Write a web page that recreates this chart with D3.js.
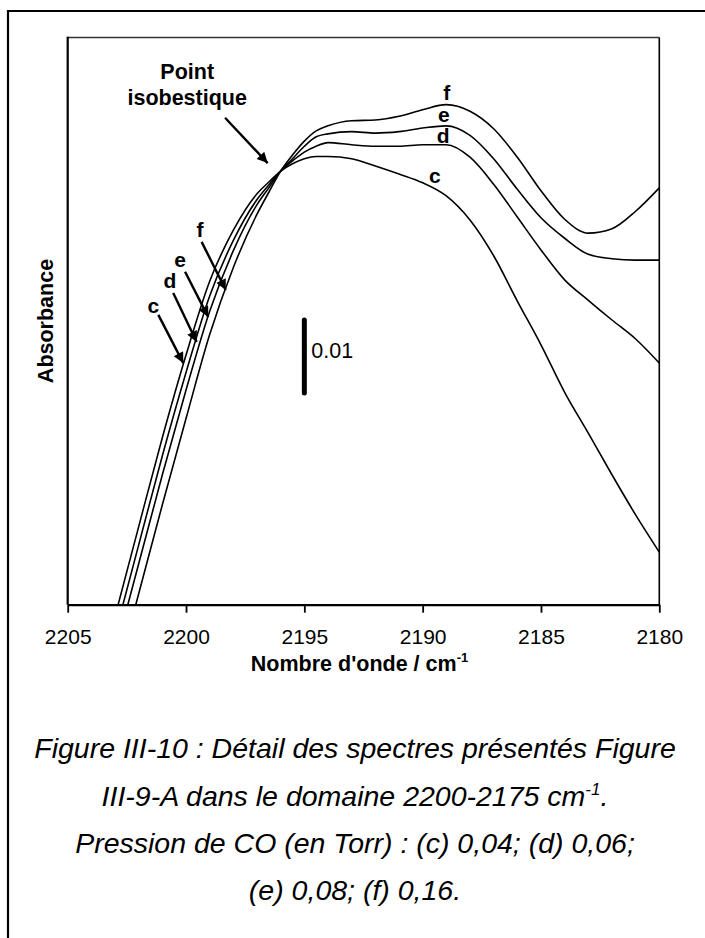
<!DOCTYPE html>
<html><head><meta charset="utf-8">
<script src="https://cdn.jsdelivr.net/npm/d3@7"></script>
<style>
html,body{margin:0;padding:0;background:#fff;}
svg{display:block;font-family:"Liberation Sans",Arial,sans-serif;}
</style></head>
<body>
<svg id="chart" width="705" height="938"></svg>
<script>
// ---- data ----
const wavenumbers = [2203, 2202, 2201, 2200, 2199, 2198, 2197, 2196.5, 2196, 2195.5, 2195, 2194.5, 2194, 2193, 2192, 2191, 2190, 2189, 2188, 2187, 2186, 2185, 2184, 2183, 2182, 2181, 2180];
const seriesC = [-0.0016, 0.0107, 0.0229, 0.0342, 0.0443, 0.0513, 0.0563, 0.0579, 0.0594, 0.0604, 0.0611, 0.0614, 0.0614, 0.0611, 0.0601, 0.0590, 0.0578, 0.0560, 0.0527, 0.0478, 0.0416, 0.0356, 0.0291, 0.0235, 0.0178, 0.0123, 0.0072];
const seriesD = [-0.0041, 0.0082, 0.0204, 0.0318, 0.0423, 0.0499, 0.0555, 0.0575, 0.0594, 0.0608, 0.0620, 0.0628, 0.0633, 0.0630, 0.0628, 0.0628, 0.0630, 0.0630, 0.0613, 0.0576, 0.0531, 0.0486, 0.0445, 0.0417, 0.0390, 0.0364, 0.0331];
const seriesE = [-0.0066, 0.0056, 0.0178, 0.0294, 0.0402, 0.0485, 0.0548, 0.0571, 0.0594, 0.0611, 0.0628, 0.0641, 0.0645, 0.0648, 0.0646, 0.0648, 0.0653, 0.0656, 0.0643, 0.0611, 0.0569, 0.0530, 0.0502, 0.0480, 0.0474, 0.0472, 0.0472];
const seriesF = [-0.0107, 0.0015, 0.0137, 0.0255, 0.0370, 0.0462, 0.0535, 0.0565, 0.0594, 0.0616, 0.0635, 0.0649, 0.0656, 0.0663, 0.0664, 0.0669, 0.0678, 0.0685, 0.0676, 0.0652, 0.0613, 0.0567, 0.0528, 0.0509, 0.0515, 0.0539, 0.0571];
const seriesNames = ["c", "d", "e", "f"];
const xTicks = [2205, 2200, 2195, 2190, 2185, 2180];
const xDomain = [2205, 2180];
const yDomain = [0, 0.0777];
const scaleBarValue = 0.01;
const xTitle = "Nombre d'onde / cm";
const yTitle = "Absorbance";
const isoLabel = ["Point", "isobestique"];
const captionLines = [
  "Figure III-10 : Détail des spectres présentés Figure",
  "III-9-A dans le domaine 2200-2175 cm",
  "Pression de CO (en Torr) : (c) 0,04; (d) 0,06;",
  "(e) 0,08; (f) 0,16."
];

// ---- layout ----
const svg = d3.select("#chart");
const m = {left: 67.7, right: 659.3, top: 37.5, bottom: 604.7};
const x = d3.scaleLinear().domain(xDomain).range([m.left, m.right]);
const y = d3.scaleLinear().domain(yDomain).range([m.bottom, m.top]);

// outer page border (left + top)
svg.append("path").attr("d", "M8,938 L8,11 L705,11")
  .attr("fill", "none").attr("stroke", "#000").attr("stroke-width", 2.2);

const defs = svg.append("defs");
defs.append("clipPath").attr("id", "clip")
  .append("rect").attr("x", m.left).attr("y", m.top)
  .attr("width", m.right - m.left).attr("height", m.bottom - m.top);
defs.append("marker").attr("id", "arr").attr("viewBox", "0 0 10 10")
  .attr("refX", 10).attr("refY", 5).attr("markerWidth", 5.2).attr("markerHeight", 4.4)
  .attr("markerUnits", "strokeWidth").attr("orient", "auto")
  .append("path").attr("d", "M0,0 L10,5 L0,10 Z").attr("fill", "#000");

// frame (top/right thinner, grey-ish top as in the reference)
svg.append("line").attr("x1", m.left).attr("x2", m.right).attr("y1", m.top).attr("y2", m.top)
  .attr("stroke", "#333").attr("stroke-width", 1.4);
svg.append("line").attr("x1", m.right).attr("x2", m.right).attr("y1", m.top).attr("y2", m.bottom)
  .attr("stroke", "#000").attr("stroke-width", 1.6);

// curves
const allSeries = [seriesC, seriesD, seriesE, seriesF];
const line = d3.line().x((d, i) => x(wavenumbers[i])).y(d => y(d)).curve(d3.curveMonotoneX);
svg.append("g").attr("clip-path", "url(#clip)")
  .selectAll("path").data(allSeries).join("path")
  .attr("d", d => line(d)).attr("fill", "none").attr("stroke", "#000").attr("stroke-width", 1.6);

// x axis
const xAxis = d3.axisBottom(x).tickValues(xTicks).tickSize(8).tickSizeOuter(0).tickFormat(d3.format("d"));
const gx = svg.append("g").attr("transform", `translate(0,${m.bottom})`).call(xAxis);
gx.select(".domain").attr("stroke-width", 2.2);
gx.selectAll(".tick line").attr("stroke-width", 1.8);
gx.selectAll(".tick text").attr("font-size", 21).attr("font-family", "Liberation Sans, Arial, sans-serif")
  .attr("dy", 0).attr("y", 39).attr("fill", "#000");
// left axis line
svg.append("line").attr("x1", m.left).attr("x2", m.left).attr("y1", m.top - 0.7).attr("y2", m.bottom)
  .attr("stroke", "#000").attr("stroke-width", 2.2);

// axis titles
const xt = svg.append("text").attr("x", (m.left + m.right) / 2 - 4).attr("y", 671)
  .attr("text-anchor", "middle").attr("font-size", 21.5).attr("font-weight", "bold");
xt.append("tspan").text(xTitle);
xt.append("tspan").attr("dy", -9).attr("font-size", 13).text("-1");

svg.append("text").attr("transform", "translate(53,321) rotate(-90)")
  .attr("text-anchor", "middle").attr("font-size", 21.5).attr("font-weight", "bold").text(yTitle);

// scale bar
const barX = x(2195), barTop = 0.039;
svg.append("line").attr("x1", barX).attr("x2", barX)
  .attr("y1", y(barTop)).attr("y2", y(barTop - scaleBarValue))
  .attr("stroke", "#000").attr("stroke-width", 5).attr("stroke-linecap", "round");
svg.append("text").attr("x", barX + 7).attr("y", (y(barTop) + y(barTop - scaleBarValue)) / 2 + 1)
  .attr("font-size", 21.5).text(String(scaleBarValue));

// curve labels near peaks
const peakLabels = [
  {t: "f", w: 2188.98, a: 0.0691},
  {t: "e", w: 2189.1, a: 0.0661},
  {t: "d", w: 2189.13, a: 0.0632},
  {t: "c", w: 2189.48, a: 0.0578}
];
svg.selectAll("text.pk").data(peakLabels).join("text").attr("class", "pk")
  .attr("x", d => x(d.w)).attr("y", d => y(d.a)).attr("text-anchor", "middle")
  .attr("font-size", 21).attr("font-weight", "bold").text(d => d.t);

// left labels with arrows
const leftLabels = [
  {t: "c", w: 2201.38, a: 0.0400, from: [2201.17, 0.0397], to: [2200.115, 0.0331]},
  {t: "d", w: 2200.68, a: 0.0434, from: [2200.54, 0.0427], to: [2199.55, 0.0360]},
  {t: "e", w: 2200.25, a: 0.0463, from: [2200.04, 0.0456], to: [2199.06, 0.0394]},
  {t: "f", w: 2199.41, a: 0.0504, from: [2199.34, 0.0497], to: [2198.32, 0.0431]}
];
svg.selectAll("text.lf").data(leftLabels).join("text").attr("class", "lf")
  .attr("x", d => x(d.w)).attr("y", d => y(d.a)).attr("text-anchor", "middle")
  .attr("font-size", 21).attr("font-weight", "bold").text(d => d.t);
svg.selectAll("line.la").data(leftLabels).join("line").attr("class", "la")
  .attr("x1", d => x(d.from[0])).attr("y1", d => y(d.from[1]))
  .attr("x2", d => x(d.to[0])).attr("y2", d => y(d.to[1]))
  .attr("stroke", "#000").attr("stroke-width", 2.4).attr("marker-end", "url(#arr)");

// isobestic annotation
const iso = svg.append("text").attr("text-anchor", "middle").attr("font-size", 21.5).attr("font-weight", "bold");
iso.append("tspan").attr("x", x(2199.95)).attr("y", 79).text(isoLabel[0]);
iso.append("tspan").attr("x", x(2199.95)).attr("y", 105).text(isoLabel[1]);
svg.append("line").attr("x1", x(2198.35)).attr("y1", y(0.0667))
  .attr("x2", x(2196.55)).attr("y2", y(0.0605))
  .attr("stroke", "#000").attr("stroke-width", 2.4).attr("marker-end", "url(#arr)");

// caption
const cap = svg.append("g").attr("font-size", 28.5).attr("font-style", "italic").attr("text-anchor", "middle");
const capY = [758, 806, 853, 900];
captionLines.forEach((s, i) => {
  const t = cap.append("text").attr("x", 355).attr("y", capY[i]);
  t.append("tspan").text(s);
  if (i === 1) {
    t.append("tspan").attr("dy", -11).attr("font-size", 17).text("-1");
    t.append("tspan").attr("dy", 11).text(".");
  }
});
</script>
</body></html>
